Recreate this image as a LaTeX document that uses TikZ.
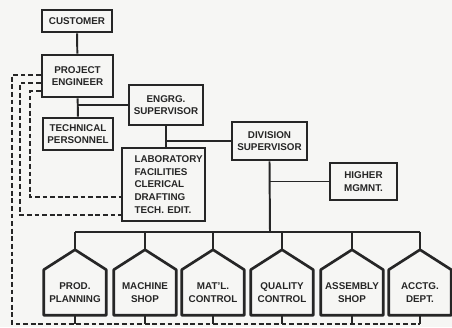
\documentclass[tikz,border=0pt]{standalone}
\usepackage{fontspec}
\setmainfont{Liberation Sans}
\usepackage{xcolor}
\usetikzlibrary{positioning,calc}
\definecolor{ink}{RGB}{38,38,38}
\definecolor{paper}{RGB}{246,246,244}
\tikzset{
  unit/.style={rectangle,draw=ink,line width=1.9pt,text=ink,font=\fontsize{7}{9}\selectfont\bfseries,align=center,inner sep=1pt},
  dept/.style={rectangle,text=ink,font=\fontsize{7}{9}\selectfont\bfseries,align=center,minimum width=15.5mm,minimum height=11.25mm,inner sep=0pt},
  roof/.style={draw=ink,line width=1.9pt,line join=round},
  wire/.style={draw=ink,line width=1.4pt},
  link/.style={draw=ink,line width=1.4pt,dash pattern=on 1.2mm off 0.7mm}
}

\begin{document}
\begin{tikzpicture}[x=0.25mm,y=-0.25mm]
    \fill[paper] (0,0) rectangle (452,327);
    \useasboundingbox (0,0) rectangle (452,327);

    % upper chain of command
    \node[unit, minimum width=17.5mm, minimum height=5.5mm] (cust) at (77,21) {CUSTOMER};
    \node[unit, minimum width=17.75mm, minimum height=10.5mm] (pe) at (77.5,76) {PROJECT\\ENGINEER};
    \node[unit, minimum width=18.5mm, minimum height=10mm] (es) at (166,105) {ENGRG.\\SUPERVISOR};
    \node[unit, minimum width=17.5mm, minimum height=8mm] (tp) at (78,134) {TECHNICAL\\PERSONNEL};
    \node[unit, minimum width=20.75mm, minimum height=18.25mm, align=left, text width=14.5mm, inner xsep=3mm] (lab) at (163.5,184.5) {LABORATORY\\FACILITIES\\CLERICAL\\DRAFTING\\TECH.\ EDIT.};
    \node[unit, minimum width=18.75mm, minimum height=9.5mm] (ds) at (269.5,141) {DIVISION\\SUPERVISOR};
    \node[unit, minimum width=16.75mm, minimum height=9.25mm] (hm) at (363.5,181.5) {HIGHER\\MGMNT.};

    \draw[wire] (cust) -- (pe);
    \draw[wire] (pe) -- (tp);
    \draw[wire] (pe.south |- es.west) -- (es.west);
    \draw[wire] (es.south) -- (es.south |- lab.north);
    \draw[wire] (es.south |- ds.west) -- (ds.west);

    % shops hanging off the bus
    \coordinate (bus) at (270,232);
    \coordinate (back) at (12,324);
    \draw[wire] (ds.south) -- (bus);
    \draw[wire] (ds.south |- hm.west) -- (hm.west);

    \foreach \x/\nm/\txt in {75/prod/{PROD.\\PLANNING}, 145/mach/{MACHINE\\SHOP},
        213/matl/{MAT'L.\\CONTROL}, 282/qual/{QUALITY\\CONTROL},
        352/assy/{ASSEMBLY\\SHOP}, 420/acctg/{ACCTG.\\DEPT.}} {
      \node[dept] (\nm) at (\x,292.5) {\txt};
      \coordinate (\nm-top) at ([yshift=5mm]\nm.north);
      \draw[roof] (\nm.south west) -- (\nm.north west) -- (\nm-top) -- (\nm.north east) -- (\nm.south east) -- cycle;
      \draw[wire] (\nm-top) -- (\nm-top |- bus);
      \draw[wire] (\nm.south) -- (\nm.south |- back);
    }
    \draw[wire] (prod-top |- bus) -- (acctg-top |- bus);

    % dashed staff lines from the project engineer
    \coordinate (k2) at (20,215);
    \coordinate (k3) at (30,197);
    \draw[link] ([yshift=0.25mm]pe.west) -| (back) -- (acctg.south |- back);
    \draw[link] ([yshift=-1.75mm]pe.west) -| (k2) -- (k2 -| lab.west);
    \draw[link] ([yshift=-3.75mm]pe.west) -| (k3) -- (k3 -| lab.west);
\end{tikzpicture}
\end{document}
